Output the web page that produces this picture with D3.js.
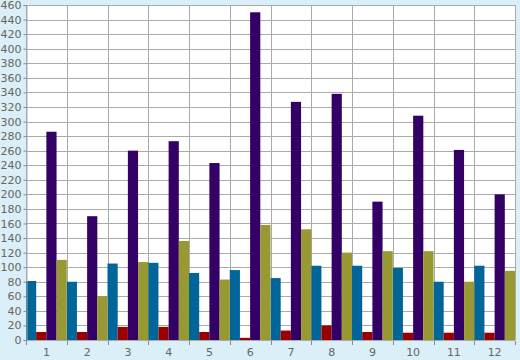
<!DOCTYPE html>
<html>
<head>
<meta charset="utf-8">
<script src="https://cdn.jsdelivr.net/npm/d3@7"></script>
<style>
  html, body { margin: 0; padding: 0; background: #daeff7; }
  svg { display: block; }
  .tick text { font-family: "DejaVu Sans", Verdana, sans-serif; font-size: 11px; fill: #666; }
</style>
</head>
<body>
<svg id="chart" width="520" height="360"></svg>
<script>
const categories = ['1', '2', '3', '4', '5', '6', '7', '8', '9', '10', '11', '12']
const seriesBlue = [81, 80, 105, 106, 92, 96, 85, 102, 102, 99, 80, 102]
const seriesRed = [11, 11, 18, 18, 11, 3, 13, 20, 11, 10, 10, 10]
const seriesPurple = [286, 170, 260, 273, 243, 450, 327, 338, 190, 308, 261, 200]
const seriesOlive = [110, 60, 107, 136, 83, 158, 152, 120, 122, 122, 80, 95]
const yTicks = d3.range(0, 461, 20)

const series = [
  { values: seriesBlue, color: '#006699' },
  { values: seriesRed, color: '#990000' },
  { values: seriesPurple, color: '#330066' },
  { values: seriesOlive, color: '#999933' }
]

const margin = { top: 5, right: 5, bottom: 20, left: 26 }
const width = 520
const height = 360

const svg = d3.select('#chart')

const x = d3.scaleBand()
  .domain(categories)
  .range([margin.left, width - margin.right])
  .padding(0)

const inner = d3.scaleBand()
  .domain(d3.range(series.length))
  .range([0, x.bandwidth()])
  .padding(0)

const y = d3.scaleLinear()
  .domain([0, 460])
  .range([height - margin.bottom, margin.top])

// plot background
svg.append('rect')
  .attr('x', margin.left)
  .attr('y', margin.top)
  .attr('width', width - margin.left - margin.right)
  .attr('height', height - margin.top - margin.bottom)
  .attr('fill', '#fff')

// grid
const grid = svg.append('g').attr('stroke', '#aaa').attr('stroke-width', 1)
yTicks.forEach(t => {
  grid.append('line')
    .attr('x1', margin.left).attr('x2', width - margin.right)
    .attr('y1', Math.round(y(t)) + 0.5).attr('y2', Math.round(y(t)) + 0.5)
})
categories.forEach(c => {
  grid.append('line')
    .attr('x1', Math.round(x(c)) + 0.5).attr('x2', Math.round(x(c)) + 0.5)
    .attr('y1', margin.top).attr('y2', height - margin.bottom)
})
grid.append('line')
  .attr('x1', width - margin.right + 0.5).attr('x2', width - margin.right + 0.5)
  .attr('y1', margin.top).attr('y2', height - margin.bottom)

// bars
const g = svg.append('g')
series.forEach((s, i) => {
  g.selectAll(null)
    .data(s.values)
    .join('rect')
      .attr('x', (d, j) => x(categories[j]) + inner(i))
      .attr('y', d => y(d))
      .attr('width', inner.bandwidth())
      .attr('height', d => y(0) - y(d))
      .attr('fill', s.color)
})

// y axis
const yAxis = svg.append('g')
  .attr('transform', `translate(${margin.left + 0.5},0)`)
  .call(d3.axisLeft(y).tickValues(yTicks).tickSize(3).tickPadding(2))
yAxis.select('.domain').attr('stroke', '#aaa')
yAxis.selectAll('.tick line').attr('stroke', '#888')

// x axis
const xAxis = svg.append('g')
  .attr('transform', `translate(0,${height - margin.bottom})`)
  .call(d3.axisBottom(x).tickSize(0).tickPadding(8))
xAxis.select('.domain').remove()
const xTickPos = categories.map(c => x(c)).concat([width - margin.right])
xAxis.selectAll('line.sep')
  .data(xTickPos)
  .join('line')
    .attr('class', 'sep')
    .attr('x1', d => Math.round(d) + 0.5).attr('x2', d => Math.round(d) + 0.5)
    .attr('y1', 1).attr('y2', 5)
    .attr('stroke', '#888')
</script>
</body>
</html>
